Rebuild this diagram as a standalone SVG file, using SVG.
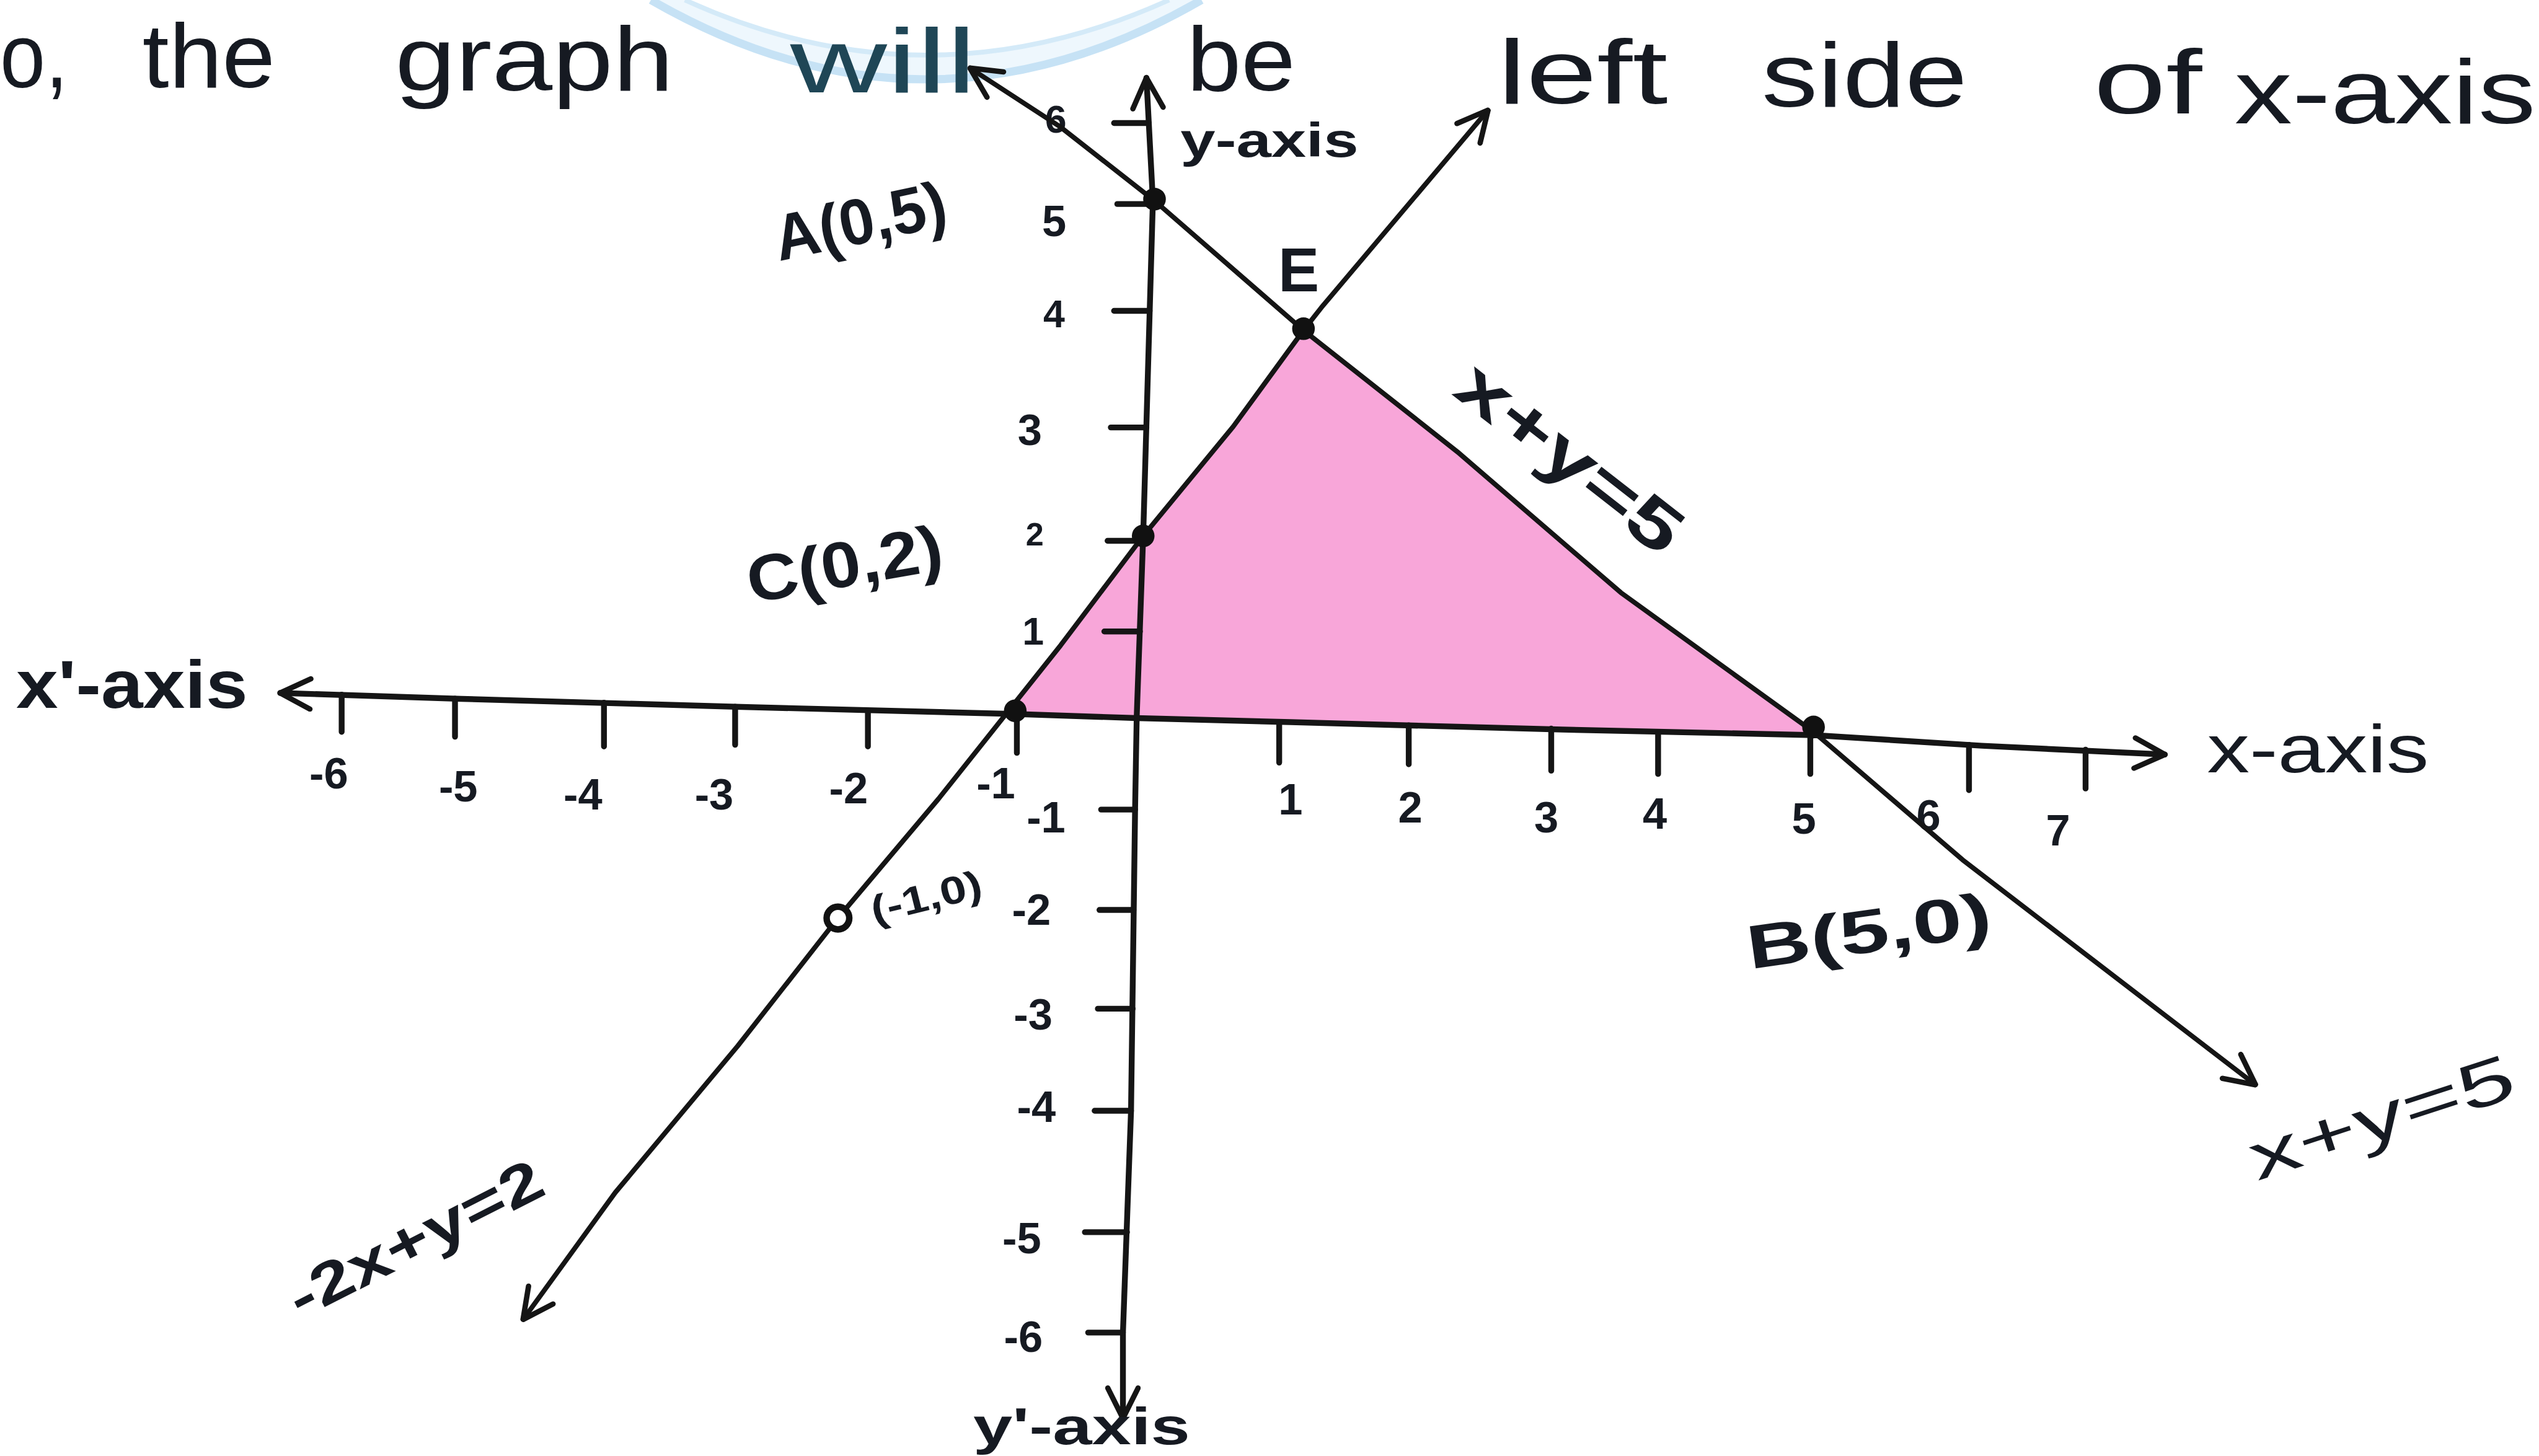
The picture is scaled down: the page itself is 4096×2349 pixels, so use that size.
<svg xmlns="http://www.w3.org/2000/svg" width="4096" height="2349" viewBox="0 0 4096 2349">
<style>
.ln{fill:none;stroke:#151515;stroke-width:3;stroke-linecap:round;stroke-linejoin:round}
.ax{stroke-width:3.6}
.tk{stroke:#151515;stroke-width:3.6;stroke-linecap:round;fill:none}
.t{font-family:"Liberation Sans",Arial,sans-serif;fill:#161a22}
.w{font-size:56px}
.n{font-size:27px;font-weight:bold;text-anchor:middle}
.lb{font-weight:bold;text-anchor:middle}
.dot{fill:#111}
</style>
<defs>
<marker id="arr" viewBox="0 0 20 20" refX="19" refY="10" markerWidth="22" markerHeight="22" markerUnits="userSpaceOnUse" orient="auto-start-reverse">
<path d="M2,1.5 L19,10 L2,18.5" fill="none" stroke="#151515" stroke-width="3" stroke-linecap="round" stroke-linejoin="round"/>
</marker>
</defs>
<rect width="4096" height="2349" fill="#ffffff"/>
<g transform="scale(2.6122)">
<g id="watermark">
<path d="M402,0 Q572,98 742,0 L722,0 Q572,68 423,0 Z" fill="#eef7fd"/>
<path d="M402,0 Q572,98 742,0" fill="none" stroke="#c6e2f5" stroke-width="5"/>
<path d="M423,0 Q572,68 722,0" fill="none" stroke="#d4eaf8" stroke-width="3"/>
</g>
<g id="heading">
<text class="t w" x="0" y="54" textLength="42" lengthAdjust="spacingAndGlyphs">o,</text>
<text class="t w" x="88" y="54" textLength="82" lengthAdjust="spacingAndGlyphs">the</text>
<text class="t w" x="244" y="56" textLength="172" lengthAdjust="spacingAndGlyphs">graph</text>
<text class="t w" x="488" y="57" textLength="115" lengthAdjust="spacingAndGlyphs" style="fill:#1f4656">will</text>
<text class="t w" x="733" y="56" textLength="67" lengthAdjust="spacingAndGlyphs">be</text>
<text class="t w" x="925" y="64" textLength="105" lengthAdjust="spacingAndGlyphs">left</text>
<text class="t w" x="1088" y="66" textLength="127" lengthAdjust="spacingAndGlyphs">side</text>
<text class="t w" x="1293" y="70" textLength="67" lengthAdjust="spacingAndGlyphs">of</text>
<text class="t w" x="1380" y="76" textLength="186" lengthAdjust="spacingAndGlyphs">x-axis</text>
</g>
<g id="region">
<polygon points="624,440 655,398.6 706,331 761.6,263.5 805,204 900,279 1001,366 1108,445 1118,453 965,450.6 797,446 702,443.5 628,441" fill="#f8a6d9"/>
</g>
<g id="axes">
<polyline class="ln ax" points="173,428 285,431.6 458,436.6 628,441 702,443.5 797,446 965,450.6 1120,454 1224,460.6 1337,466" marker-start="url(#arr)" marker-end="url(#arr)"/>
<polyline class="ln ax" points="708,48 712,124 706,331 702,443 701,500 698.5,686 693.5,823 693.5,876" marker-start="url(#arr)" marker-end="url(#arr)"/>
<g id="xticks">
<path class="tk" d="M211,429V452 M281,431.5V455 M373,434V461 M454,436.5V460 M536,439V461 M628,441V465 M790,446V471 M870,448V472 M958,450V476 M1024,452V478 M1118,454V478 M1216,460V488 M1288,463V487"/>
</g>
<g id="yticks">
<path class="tk" d="M688,76H709.5 M690,126H712 M688,192H710 M686,264H708 M684,334H706 M682,390H704 M680,500H701 M679,562H700 M678,623H699.5 M676,686H698.5 M670,761H696 M672,823H693.5"/>
</g>
<g id="xlabels">
<text class="t n" x="203" y="487">-6</text>
<text class="t n" x="283" y="495">-5</text>
<text class="t n" x="360" y="500">-4</text>
<text class="t n" x="441" y="500">-3</text>
<text class="t n" x="524" y="496">-2</text>
<text class="t n" x="615" y="493">-1</text>
<text class="t n" x="797" y="503">1</text>
<text class="t n" x="871" y="508">2</text>
<text class="t n" x="955" y="514">3</text>
<text class="t n" x="1022" y="512">4</text>
<text class="t n" x="1114" y="515">5</text>
<text class="t n" x="1191" y="513">6</text>
<text class="t n" x="1271" y="522">7</text>
</g>
<g id="ylabels">
<text class="t n" x="652" y="82" style="font-size:24px">6</text>
<text class="t n" x="651" y="146">5</text>
<text class="t n" x="651" y="202" style="font-size:24px">4</text>
<text class="t n" x="636" y="275">3</text>
<text class="t n" x="639" y="337" style="font-size:20px">2</text>
<text class="t n" x="638" y="398" style="font-size:24px">1</text>
<text class="t n" x="646" y="514">-1</text>
<text class="t n" x="637" y="571">-2</text>
<text class="t n" x="638" y="636">-3</text>
<text class="t n" x="640" y="693">-4</text>
<text class="t n" x="631" y="774">-5</text>
<text class="t n" x="632" y="835">-6</text>
</g>
<text class="t" x="1363" y="477" style="font-size:42px" textLength="137" lengthAdjust="spacingAndGlyphs">x-axis</text>
<text class="t" x="10" y="437" style="font-size:42px;font-weight:bold" textLength="143" lengthAdjust="spacingAndGlyphs">x'-axis</text>
<text class="t" x="729" y="97" style="font-size:30px;font-weight:bold" textLength="110" lengthAdjust="spacingAndGlyphs">y-axis</text>
<text class="t" x="601" y="892" style="font-size:32px;font-weight:bold" textLength="134" lengthAdjust="spacingAndGlyphs">y'-axis</text>
</g>
<g id="connectors">
<polyline id="line-xy5" class="ln" points="599,42 655,78.5 713,124 805,204 900,279 1001,366 1120,452 1212,531 1393,670" marker-start="url(#arr)" marker-end="url(#arr)"/>
<polyline id="line-2xy2" class="ln" points="919,68 816,190 805,204 761.6,263.5 706,331 655,398.6 579.5,493.5 517.5,567 455.6,646 380,736.5 323,815" marker-start="url(#arr)" marker-end="url(#arr)"/>
</g>
<g id="node-A">
<circle class="dot" cx="713" cy="123" r="7"/>
<text class="t lb" x="534" y="150" transform="rotate(-12 534 150)" style="font-size:40px" textLength="108" lengthAdjust="spacingAndGlyphs">A(0,5)</text>
</g>
<g id="node-E">
<circle class="dot" cx="805" cy="203" r="7"/>
<text class="t lb" x="802" y="180" style="font-size:38px">E</text>
</g>
<g id="node-C">
<circle class="dot" cx="706" cy="331" r="7"/>
<text class="t lb" x="524" y="362" transform="rotate(-10 524 362)" style="font-size:40px" textLength="122" lengthAdjust="spacingAndGlyphs">C(0,2)</text>
</g>
<g id="node-P">
<circle class="dot" cx="627" cy="439" r="7"/>
</g>
<g id="node-B">
<circle class="dot" cx="1120" cy="449" r="7"/>
<text class="t lb" x="1156" y="588" transform="rotate(-8 1156 588)" style="font-size:38px" textLength="152" lengthAdjust="spacingAndGlyphs">B(5,0)</text>
</g>
<g id="node-D">
<circle cx="517.5" cy="567" r="7" fill="#ffffff" stroke="#111" stroke-width="4"/>
<text class="t lb" x="574" y="562" transform="rotate(-14 574 562)" style="font-size:24px" textLength="70" lengthAdjust="spacingAndGlyphs">(-1,0)</text>
</g>
<g id="labels">
<text class="t lb" x="961" y="294" transform="rotate(38 961 294)" style="font-size:42px" textLength="165" lengthAdjust="spacingAndGlyphs">x+y=5</text>
<text class="t lb" x="1475" y="703" transform="rotate(-18 1475 703)" style="font-size:40px;font-weight:normal" textLength="170" lengthAdjust="spacingAndGlyphs">x+y=5</text>
<text class="t lb" x="262" y="776" transform="rotate(-27 262 776)" style="font-size:36px" textLength="172" lengthAdjust="spacingAndGlyphs">-2x+y=2</text>
</g>
</g>
</svg>
